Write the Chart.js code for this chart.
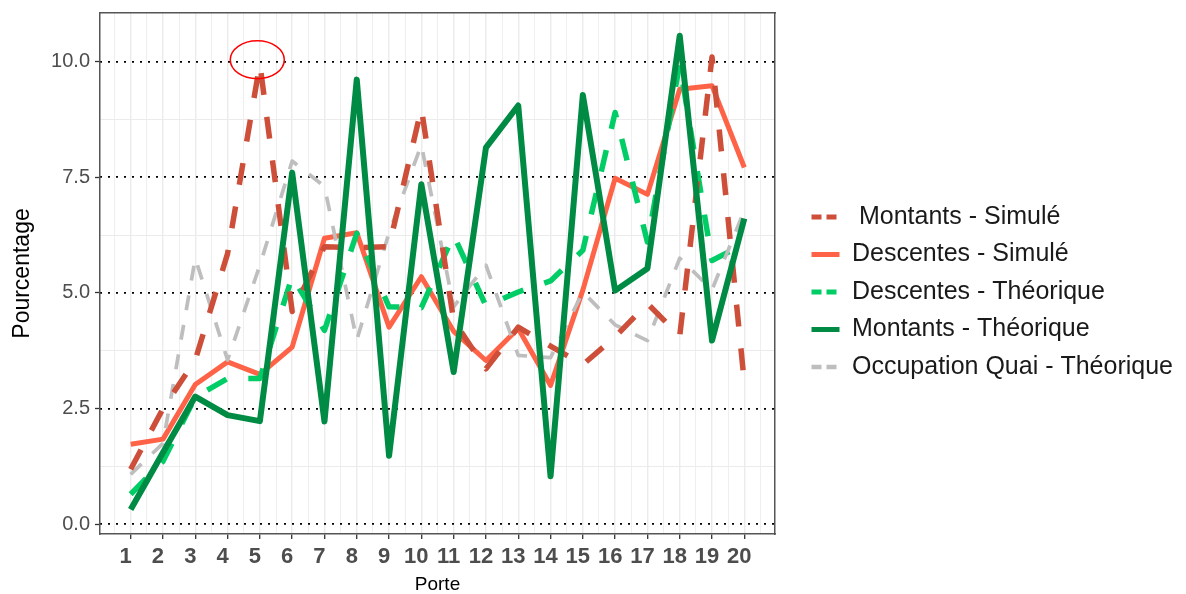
<!DOCTYPE html>
<html lang="fr">
<head>
<meta charset="utf-8">
<title>Pourcentage par porte</title>
<script src="https://cdn.jsdelivr.net/npm/chart.js@4.4.1/dist/chart.umd.min.js"></script>
<style>
  html, body { margin: 0; padding: 0; background: #ffffff; }
  #wrap { width: 1186px; height: 594px; }
</style>
</head>
<body>
<div id="wrap"><canvas id="chart" width="1186" height="594"></canvas></div>
<script>
// Portes on the x axis
const portes = [1, 2, 3, 4, 5, 6, 7, 8, 9, 10, 11, 12, 13, 14, 15, 16, 17, 18, 19, 20];

// Series values (percent)
const montantsSimule = [1.19, 2.5, 3.55, 5.85, 9.95, 4.6, 6.0, 5.98, 6.0, 8.99, 4.4, 3.36, 4.26, 3.85, 3.45, 4.05, 4.77, 4.07, 10.1, 3.06];
const descentesSimule = [1.73, 1.84, 3.02, 3.51, 3.24, 3.83, 6.18, 6.3, 4.26, 5.35, 4.17, 3.54, 4.23, 3.0, 5.06, 7.48, 7.13, 9.4, 9.48, 7.71];
const descentesTheorique = [0.65, 1.36, 2.75, 3.15, 3.15, 5.35, 4.19, 6.29, 4.7, 4.68, 6.25, 4.72, 5.02, 5.26, 5.92, 8.9, 6.1, 9.95, 5.7, 6.06];
const montantsTheorique = [0.32, 1.55, 2.76, 2.36, 2.23, 7.6, 2.22, 9.61, 1.48, 7.35, 3.29, 8.14, 9.05, 1.04, 9.28, 5.05, 5.53, 10.56, 3.97, 6.61];
const occupationQuai = [1.08, 1.75, 5.75, 3.55, 5.6, 7.85, 7.3, 3.98, 6.3, 8.2, 4.7, 5.6, 3.65, 3.6, 5.02, 4.31, 3.97, 5.75, 5.07, 6.78];

// Y axis tick labels
const yTicks = [0, 2.5, 5, 7.5, 10];

// The circled point (porte 5, Montants - Simulé)
const highlightPorte = 4.92;
const highlightValue = 10.04;

// Axis ranges (ggplot-like 5% expansion)
const xMin = 0.05, xMax = 20.95;
const yMin = -0.21, yMax = 11.05;

// width reserved for the legend on the right, and how far to lift it
const legendBoxWidth = 375;
const legendLift = 5;

// Minor grid positions halfway between the major ones
const xGrid = [];
portes.forEach(function (p) {
  xGrid.push(p - 0.5);
  xGrid.push(p);
});
xGrid.push(portes[portes.length - 1] + 0.5);

const yGrid = [];
yTicks.forEach(function (v, i) {
  if (i > 0) yGrid.push((v + yTicks[i - 1]) / 2);
  yGrid.push(v);
});

function toPoints(values) {
  return portes.map(function (p, i) {
    return { x: p, y: values[i] };
  });
}

Chart.defaults.font.family = "'Liberation Sans', Arial, sans-serif";

const borderGrey = "#555555";
const clear = "rgba(0,0,0,0)";

// Red ellipse around the Montants - Simulé peak
const highlightPlugin = {
  id: "highlight",
  afterDatasetsDraw(chart) {
    const ctx = chart.ctx;
    const px = chart.scales.x.getPixelForValue(highlightPorte);
    const py = chart.scales.y.getPixelForValue(highlightValue);
    ctx.save();
    ctx.strokeStyle = "#ff0000";
    ctx.lineWidth = 1.5;
    ctx.beginPath();
    ctx.ellipse(px, py, 27, 19, 0, 0, 2 * Math.PI);
    ctx.stroke();
    ctx.restore();
  },
};

// The layout caps side boxes at a fraction of the canvas, so widen the legend box after its own fit
const legendWidthPlugin = {
  id: "legendWidth",
  afterInit(chart) {
    const legend = chart.legend;
    if (!legend) return;
    const fit = legend.fit;
    legend.fit = function () {
      fit.call(this);
      this.width = legendBoxWidth;
    };
  },
  afterLayout(chart) {
    if (!chart.legend) return;
    chart.legend.top -= legendLift;
    chart.legend.bottom -= legendLift;
  },
};

function lineDataset(label, values, color, width, dash, order) {
  return {
    label: label,
    data: toPoints(values),
    borderColor: color,
    backgroundColor: color,
    borderWidth: width,
    borderDash: dash,
    borderCapStyle: "butt",
    borderJoinStyle: "round",
    pointRadius: 0,
    pointHoverRadius: 0,
    tension: 0,
    fill: false,
    order: order,
    xAxisID: "x",
    yAxisID: "y",
  };
}

const datasets = [
  lineDataset(" Montants - Simulé", montantsSimule, "#CD4F39", 5.5, [22, 22], 1),
  lineDataset("Descentes - Simulé", descentesSimule, "#FF6347", 5, [], 4),
  lineDataset("Descentes - Théorique", descentesTheorique, "#00CD66", 5.5, [22, 22], 3),
  lineDataset("Montants - Théorique", montantsTheorique, "#008B45", 6, [], 0),
  lineDataset("Occupation Quai - Théorique", occupationQuai, "#BEBEBE", 3.7, [15, 15], 2),
];

new Chart(document.getElementById("chart"), {
  type: "line",
  data: { datasets: datasets },
  plugins: [legendWidthPlugin, highlightPlugin],
  options: {
    responsive: false,
    animation: false,
    devicePixelRatio: 1,
    layout: { autoPadding: false, padding: { top: 0, right: 12, bottom: 0, left: 0 } },
    plugins: {
      tooltip: { enabled: false },
      legend: {
        position: "right",
        align: "center",
        labels: {
          usePointStyle: true,
          pointStyleWidth: 28,
          padding: 12.5,
          color: "#1a1a1a",
          font: { size: 25 },
          generateLabels: function (chart) {
            return chart.data.datasets.map(function (ds, i) {
              return {
                text: ds.label,
                fillStyle: ds.borderColor,
                strokeStyle: ds.borderColor,
                lineWidth: ds.borderWidth > 4 ? 5 : 4.5,
                lineDash: ds.borderDash.length ? [10, 5] : [],
                lineCap: "butt",
                pointStyle: "line",
                fontColor: "#1a1a1a",
                hidden: false,
                datasetIndex: i,
              };
            });
          },
        },
      },
    },
    scales: {
      x: {
        type: "linear",
        position: "bottom",
        min: xMin,
        max: xMax,
        afterBuildTicks: function (axis) {
          axis.ticks = xGrid.map(function (v) { return { value: v }; });
        },
        afterFit: function (axis) { axis.height = 60; },
        ticks: {
          autoSkip: false,
          maxRotation: 0,
          padding: 5,
          labelOffset: -5,
          color: "#4d4d4d",
          font: { size: 22, weight: "bold" },
          callback: function (v) { return Number.isInteger(v) ? String(v) : ""; },
        },
        grid: {
          color: "#ebebeb",
          lineWidth: function (c) { return c.tick && Number.isInteger(c.tick.value) ? 1.4 : 0.8; },
          tickLength: 5,
          tickWidth: 1.3,
          tickColor: function (c) { return c.tick && Number.isInteger(c.tick.value) ? "#333333" : clear; },
        },
        border: { display: true, color: borderGrey, width: 1.5 },
        title: {
          display: true,
          text: "Porte",
          color: "#000000",
          font: { size: 19, lineHeight: 1 },
          padding: { top: 0, bottom: 0 },
        },
      },
      xTop: {
        type: "linear",
        position: "top",
        min: xMin,
        max: xMax,
        ticks: { display: false },
        grid: { display: false },
        border: { display: true, color: borderGrey, width: 1.5 },
        afterFit: function (axis) { axis.height = 13; },
      },
      y: {
        type: "linear",
        position: "left",
        min: yMin,
        max: yMax,
        afterBuildTicks: function (axis) {
          axis.ticks = yGrid.map(function (v) { return { value: v }; });
        },
        afterFit: function (axis) {
          axis.width = 100;
          // labels sit well inside the panel, no overhang to reserve
          axis.paddingTop = 0;
          axis.paddingBottom = 0;
        },
        ticks: {
          padding: 5,
          color: "#4d4d4d",
          font: { size: 20 },
          callback: function (v) { return yTicks.includes(v) ? v.toFixed(1) : ""; },
        },
        grid: {
          color: function (c) { return c.tick && yTicks.includes(c.tick.value) ? clear : "#ebebeb"; },
          lineWidth: 1,
          tickLength: 5,
          tickWidth: 1.3,
          tickColor: function (c) { return c.tick && yTicks.includes(c.tick.value) ? "#333333" : clear; },
        },
        border: { display: true, color: borderGrey, width: 1.5 },
        title: {
          display: true,
          text: "Pourcentage",
          color: "#000000",
          font: { size: 23, lineHeight: 1 },
          padding: { top: 11, bottom: 0 },
        },
      },
      // dotted black lines on the major y values
      yDots: {
        type: "linear",
        position: "left",
        min: yMin,
        max: yMax,
        afterBuildTicks: function (axis) {
          axis.ticks = yTicks.map(function (v) { return { value: v }; });
        },
        afterFit: function (axis) { axis.width = 0; },
        ticks: { display: false },
        grid: { color: "#000000", lineWidth: 1.8, drawTicks: false },
        border: { display: false, dash: [2, 6] },
      },
      yRight: {
        type: "linear",
        position: "right",
        min: yMin,
        max: yMax,
        ticks: { display: false },
        grid: { display: false },
        border: { display: true, color: borderGrey, width: 1.5 },
        afterFit: function (axis) { axis.width = 24; },
      },
    },
  },
});
</script>
</body>
</html>
